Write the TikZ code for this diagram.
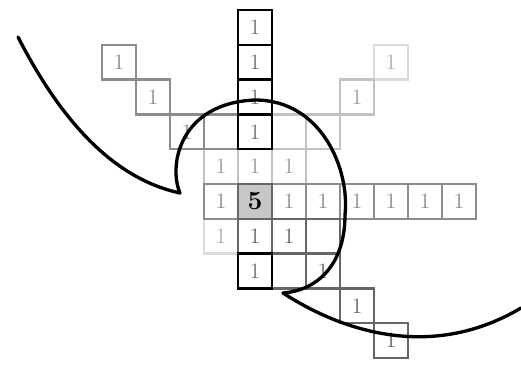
\documentclass[tikz,border=0pt]{standalone}
\usetikzlibrary{
    calc,
    positioning
}
\definecolor{faintgray}{gray}{0.86}
\definecolor{lightgray}{gray}{0.76}
\definecolor{midgray}{gray}{0.55}
\definecolor{darkgray}{gray}{0.40}
\definecolor{fillgray}{gray}{0.78}
\tikzset{
  cell/.style={
    draw,
    rectangle,
    minimum width=0.68cm,
    minimum height=0.696cm,
    inner sep=0pt,
    outer sep=0pt,
    line width=1.4pt,
    font=\fontsize{12.5}{13}\selectfont
  },
  faintcell/.style={cell, draw=faintgray, text=faintgray!80!black},
  lightcell/.style={cell, draw=lightgray, text=lightgray!80!black},
  midcell/.style={cell, draw=midgray, text=midgray},
  darkcell/.style={cell, draw=darkgray, text=darkgray},
  blackcell/.style={cell, draw=black, text=black!55},
  centercell/.style={cell, draw=darkgray, fill=fillgray,
    font=\fontsize{15}{16}\selectfont\bfseries},
  curve/.style={black, line width=1.9pt, line join=round, line cap=round}
}
\begin{document}
\begin{tikzpicture}[x=0.02cm, y=-0.02cm]
    \useasboundingbox (0,0) rectangle (521,365);

    %-------------------------
    % faint and light cells
    %-------------------------
    \node[faintcell] (ur1) at (391,62.2) {1};
    \node[faintcell] (l6) at (221,236.2) {1};
    \node[lightcell] (ur2) at (357,97) {1};
    \node[lightcell] (ur3) at (323,131.8) {};
    \node[lightcell] (ur4) at (289,131.8) {};
    \node[lightcell] (l4) at (221,166.6) {1};
    \node[lightcell] (m4) at (255,166.6) {1};
    \node[lightcell] (r4) at (289,166.6) {1};

    %-------------------------
    % middle gray cells
    %-------------------------
    \node[midcell] (ul1) at (119,62.2) {1};
    \node[midcell] (ul2) at (153,97) {1};
    \node[midcell] (ul3) at (187,131.8) {1};
    \node[midcell] (ul4) at (221,131.8) {};
    \node[midcell] (l5) at (221,201.4) {1};
    \node[midcell] (h1) at (289,201.4) {1};
    \node[midcell] (h2) at (323,201.4) {1};
    \node[midcell] (h3) at (357,201.4) {1};
    \node[midcell] (h4) at (391,201.4) {1};
    \node[midcell] (h5) at (425,201.4) {1};
    \node[midcell] (h6) at (459,201.4) {1};

    %-------------------------
    % dark gray cells
    %-------------------------
    \node[darkcell] (m6) at (255,236.2) {1};
    \node[darkcell] (r6) at (289,236.2) {1};
    \node[darkcell] (rr6) at (323,236.2) {};
    \node[darkcell] (r7) at (289,271) {};
    \node[darkcell] (rr7) at (323,271) {1};
    \node[darkcell] (dr1) at (357,305.8) {1};
    \node[darkcell] (dr2) at (391,340.6) {1};

    %-------------------------
    % centre and black cells
    %-------------------------
    \node[centercell] (C) at (255,201.4) {5};
    \node[blackcell] (v0) at (255,27.4) {1};
    \node[blackcell] (v1) at (255,62.2) {1};
    \node[blackcell] (v2) at (255,97) {1};
    \node[blackcell] (v3) at (255,131.8) {1};
    \node[blackcell] (m7) at (255,271) {1};

    %-------------------------
    % the curve
    %-------------------------
    \draw[curve] (18,37) .. controls (58,115) and (110,178) .. (180,193)
        .. controls (168,165) and (180,103) .. (255,100)
        .. controls (322,100) and (350,170) .. (345,215)
        .. controls (345,262) and (320,290) .. (283,293)
        .. controls (340,330) and (430,362) .. (521,308);
\end{tikzpicture}
\end{document}
